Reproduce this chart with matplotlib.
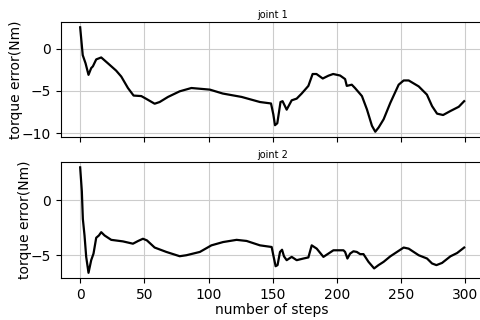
"""
joint 1 / joint 2 のトルク誤差をステップ数に対してプロットする
"""

import matplotlib
matplotlib.use('Agg')
import matplotlib.pyplot as plt

# joint 1 のトルク誤差
steps_j1 = [0, 2, 4.2, 6.5, 8.6, 9.9, 12.5, 16.4, 21.6, 28, 32, 37.2, 41.6, 47.6,
            51.5, 58, 61.9, 68.4, 77.5, 86.6, 101, 111, 125.7, 140, 148.6, 150.4,
            151.7, 153.5, 156, 157.6, 160.8, 164.7, 168.6, 172.5, 177.7, 181, 184,
            188.9, 193.3, 197, 202.4, 206.3, 207.6, 211.5, 214, 219.4, 223.3, 227.2,
            229.8, 232.4, 236.3, 241.5, 248, 251.9, 255.8, 263.6, 270, 274, 277.9,
            282.6, 288.3, 294.8, 299]
err_j1 = [2.5, -0.78, -1.74, -3.1, -2.3, -2.1, -1.28, -1.05, -1.74, -2.6, -3.3, -4.65,
          -5.54, -5.6, -5.93, -6.5, -6.3, -5.7, -5.04, -4.65, -4.84, -5.3, -5.7, -6.3,
          -6.47, -7.75, -9.03, -8.8, -6.3, -6.2, -7.2, -6.1, -5.9, -5.3, -4.4, -3.0,
          -3.0, -3.53, -3.2, -3.0, -3.18, -3.6, -4.4, -4.26, -4.65, -5.6, -7.17, -9.1,
          -9.8, -9.3, -8.33, -6.4, -4.26, -3.76, -3.76, -4.46, -5.43, -6.78, -7.67,
          -7.83, -7.36, -6.86, -6.2]

# joint 2 のトルク誤差
steps_j2 = [0, 1.3, 2.1, 3.4, 4.7, 6.5, 8.6, 10.4, 12.5, 14.6, 16.4, 19, 24.2, 33.3,
            41.1, 45, 48.9, 52, 58, 67.1, 77.5, 82.7, 93.2, 102.2, 111.3, 121.8, 129.6,
            140, 149.1, 150.4, 152.2, 153.7, 155.6, 157.2, 158.7, 160.8, 164.7, 168.6,
            173.8, 177.7, 180.3, 184.2, 189.4, 193.3, 197.2, 205, 206.3, 208.1, 210.2,
            212.8, 215.4, 218, 220.6, 224.5, 228.9, 232.3, 236.3, 241.5, 246.7, 251.9,
            255.8, 263.6, 270.1, 274, 277.4, 281.8, 288.3, 293.5, 299]
err_j2 = [3.0, 0.84, -1.7, -3.2, -5.15, -6.6, -5.45, -4.85, -3.41, -3.2, -2.9, -3.2,
          -3.6, -3.74, -3.95, -3.71, -3.5, -3.65, -4.3, -4.7, -5.09, -5.0, -4.7, -4.1,
          -3.8, -3.6, -3.7, -4.1, -4.25, -5.0, -6.0, -5.9, -4.7, -4.5, -5.1, -5.45,
          -5.15, -5.45, -5.3, -5.2, -4.1, -4.4, -5.15, -4.85, -4.55, -4.55, -4.7, -5.3,
          -4.85, -4.64, -4.7, -4.9, -4.9, -5.6, -6.2, -5.9, -5.6, -5.1, -4.7, -4.3,
          -4.4, -5.0, -5.3, -5.75, -5.9, -5.7, -5.1, -4.8, -4.3]

fig = plt.figure(figsize=(4.8, 3.2), dpi=100)
ax1 = fig.add_axes([0.127, 0.572, 0.88, 0.359])
ax2 = fig.add_axes([0.127, 0.131, 0.88, 0.3625], sharex=ax1)

for ax, x, y, name in [(ax1, steps_j1, err_j1, 'joint 1'), (ax2, steps_j2, err_j2, 'joint 2')]:
    ax.plot(x, y, color='black', linewidth=1.6)
    ax.set_title(name, fontsize=7, pad=3)
    ax.set_ylabel('torque error(Nm)', fontsize=10, labelpad=-1)
    ax.tick_params(labelsize=10)
    ax.grid(True, color='#cccccc')
    ax.spines['right'].set_visible(False)

ax1.set_yticks([0, -5, -10])
ax2.set_yticks([0, -5])
ax1.tick_params(labelbottom=False)
ax2.set_xticks([0, 50, 100, 150, 200, 250, 300])
ax2.set_xlabel('number of steps', fontsize=10, labelpad=1)

fig.savefig('out.png', dpi=100)
